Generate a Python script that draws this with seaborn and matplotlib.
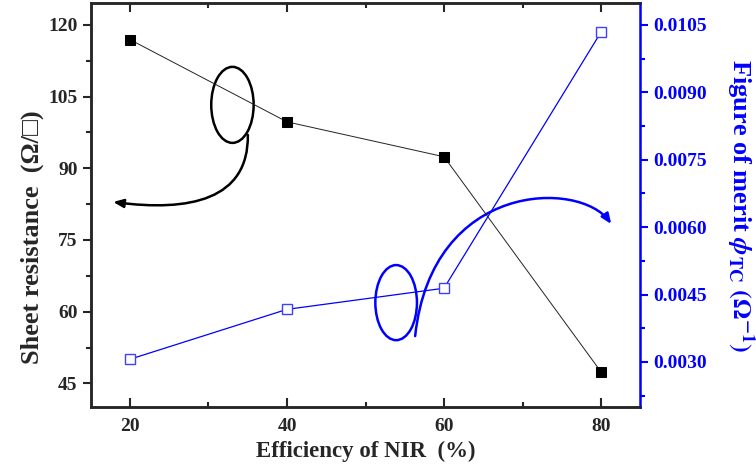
import numpy as np
import seaborn as sns
import matplotlib.pyplot as plt
from matplotlib.patches import Ellipse, FancyArrowPatch
from matplotlib.path import Path
from matplotlib.ticker import MultipleLocator

# data
efficiency = [20, 40, 60, 80]
sheet_res = [116.9, 99.7, 92.4, 47.4]
fom = [0.00306, 0.00417, 0.00464, 0.01034]

sns.set_style('ticks')
plt.rcParams['font.family'] = ['Liberation Serif', 'DejaVu Serif']
plt.rcParams['font.weight'] = 'bold'
plt.rcParams['mathtext.fontset'] = 'stix'

fig = plt.figure(figsize=(7.56, 4.65), dpi=100)
ax = fig.add_axes([0.12, 0.125, 0.727, 0.868])
ax2 = ax.twinx()

sns.lineplot(x=efficiency, y=sheet_res, ax=ax, color='#222222', lw=0.7,
             marker='s', markersize=6.8, markerfacecolor='black',
             markeredgecolor='black')
sns.lineplot(x=efficiency, y=fom, ax=ax2, color='blue', lw=0.9,
             marker='s', markersize=6.8, markerfacecolor='white',
             markeredgecolor='#3f3fff', markeredgewidth=1.0)

ax.set_xlim(15, 85)
ax.set_ylim(40.1, 124.5)
ax2.set_ylim(0.0020, 0.01098)

ax.set_xticks([20, 40, 60, 80])
ax.xaxis.set_minor_locator(MultipleLocator(10))
ax.set_yticks([45, 60, 75, 90, 105, 120])
ax.yaxis.set_minor_locator(plt.FixedLocator([52.5, 67.5, 82.5, 97.5, 112.5]))
ax2.set_yticks([0.0030, 0.0045, 0.0060, 0.0075, 0.0090, 0.0105])
ax2.yaxis.set_minor_locator(plt.FixedLocator([0.00225, 0.00375, 0.00525, 0.00675, 0.00825, 0.00975]))
ax2.set_yticklabels(['0.0030', '0.0045', '0.0060', '0.0075', '0.0090', '0.0105'])

ax.tick_params(axis='x', which='both', direction='in', top=True, width=1.5,
               labelsize=14, pad=8)
ax.tick_params(axis='x', which='major', length=6.5)
ax.tick_params(axis='x', which='minor', length=3.5)
ax.tick_params(axis='y', which='both', direction='out', width=1.5, labelsize=14)
ax.tick_params(axis='y', which='major', length=6)
ax.tick_params(axis='y', which='minor', length=3.5)
ax2.tick_params(axis='y', which='both', direction='out', width=1.5,
                colors='blue', labelsize=14)
ax2.tick_params(axis='y', which='major', length=6)
ax2.tick_params(axis='y', which='minor', length=3.5)

for s in ['left', 'bottom', 'top']:
    ax.spines[s].set_linewidth(1.8)
    ax2.spines[s].set_linewidth(1.8)
ax2.spines['right'].set_linewidth(1.8)
ax2.spines['right'].set_color('blue')
ax.spines['right'].set_visible(False)

ax.set_xlabel('Efficiency of NIR  (%)', fontsize=16.5, fontweight='bold', labelpad=4)
ax.set_ylabel('Sheet resistance  (Ω/□)', fontsize=19, fontweight='bold')
ax.yaxis.set_label_coords(-0.085, 0.42)
ax2.set_ylabel(r'Figure of merit $\boldsymbol{\phi}_{\rm TC}$ $(\Omega^{-1})$', fontsize=19,
               fontweight='bold', color='blue', rotation=270, va='bottom', labelpad=12)

# annotation: black ellipse and arrow pointing to left axis
ax.add_patch(Ellipse((33.05, 103.25), 5.4, 15.9, fill=False, lw=1.8, color='black'))
verts = [(35.01, 96.97), (35.13, 83.37), (27.57, 80.85), (17.86, 82.95)]
p = Path(verts, [Path.MOVETO, Path.CURVE4, Path.CURVE4, Path.CURVE4])
ax.add_patch(FancyArrowPatch(path=p, arrowstyle='-|>,head_length=6,head_width=2.5',
                             lw=1.8, color='black'))

# annotation: blue ellipse and arrow pointing to right axis
ax.add_patch(Ellipse((53.9, 61.9), 5.3, 15.7, fill=False, lw=1.8, color='blue'))
verts = [(56.32, 54.90), (58.46, 87.55), (77.38, 87.55), (81.29, 78.34)]
p = Path(verts, [Path.MOVETO, Path.CURVE4, Path.CURVE4, Path.CURVE4])
ax.add_patch(FancyArrowPatch(path=p, arrowstyle='-|>,head_length=6,head_width=2.5',
                             lw=1.8, color='blue'))

fig.savefig('out.png', dpi=100)
